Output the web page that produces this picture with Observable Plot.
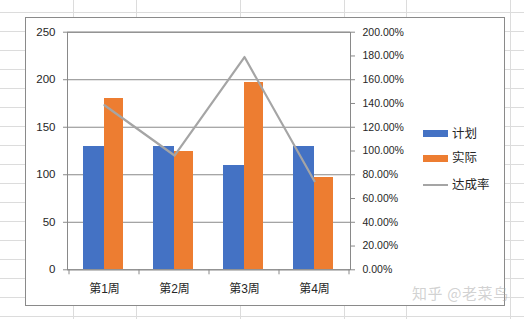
<!DOCTYPE html>
<html><head><meta charset="utf-8">
<script src="https://cdn.jsdelivr.net/npm/d3@7"></script>
<script src="https://cdn.jsdelivr.net/npm/@observablehq/plot@0.6"></script>
<style>
html,body{margin:0;padding:0;background:#fff;}
#wrap{position:relative;width:524px;height:319px;overflow:hidden;background:#fff;}
#sheet{position:absolute;left:0;top:0;}
#box{position:absolute;left:25px;top:17px;width:480px;height:289px;box-sizing:border-box;border:1px solid #8a8a8a;background:#fff;}
#chart{position:absolute;left:0;top:0;}
.lg{position:absolute;font-family:"Noto Sans CJK SC",sans-serif;font-size:12.5px;color:#262626;line-height:1;}
.sw{position:absolute;}
#wm{position:absolute;left:412px;top:285px;font-family:"Noto Sans CJK SC",sans-serif;font-size:15px;letter-spacing:0.6px;color:rgba(165,165,165,0.5);line-height:1;white-space:nowrap;}
</style></head>
<body>
<div id="wrap">
  <svg id="sheet" width="524" height="319"></svg>
  <div id="box"></div>
  <div id="chart"></div>
  <div id="legend"></div>
  <div id="wm">知乎 @老菜鸟</div>
</div>
<script>
const weeks = ["第1周", "第2周", "第3周", "第4周"];
const plan = [130, 130, 110, 130];
const actual = [180, 125, 197, 97];
const rate = [1.385, 0.962, 1.791, 0.746];
const leftTicks = [0, 50, 100, 150, 200, 250];
const rightTicks = [0, 0.2, 0.4, 0.6, 0.8, 1.0, 1.2, 1.4, 1.6, 1.8, 2.0];
const seriesNames = ["计划", "实际", "达成率"];
const seriesColors = ["#4472c4", "#ed7d31", "#a5a5a5"];

// spreadsheet background grid (decoration)
const colLines = [73.5, 136.5, 240.5, 344.5, 406.5, 510.5];
const sheet = d3.select("#sheet");
for (let k = 0; k < 17; k++) {
  const y = Math.round(11.7 + 19.02 * k) + 0.5;
  sheet.append("line").attr("x1", 0).attr("x2", 524).attr("y1", y).attr("y2", y).attr("stroke", "#dcdcdc");
}
colLines.forEach(x => sheet.append("line").attr("x1", x).attr("x2", x).attr("y1", 0).attr("y2", 319).attr("stroke", "#dcdcdc"));

const idx = weeks.map((_, i) => i);
const RATE_K = 250 / 2.0; // 200% on right axis aligns with 250 on left axis
const axisColor = "#898989";
const numFont = "Liberation Sans, Arial, sans-serif";

const plot = Plot.plot({
  width: 524,
  height: 319,
  marginLeft: 67,
  marginRight: 174,
  marginTop: 31.7,
  marginBottom: 49.7,
  style: {background: "transparent", overflow: "visible"},
  x: {type: "band", domain: weeks, padding: 0, axis: null},
  y: {domain: [0, 250], axis: null},
  marks: [
    Plot.gridY(leftTicks, {stroke: axisColor, strokeOpacity: 1}),
    Plot.barY(idx, {x: i => weeks[i], y: i => plan[i], fill: seriesColors[0], insetLeft: 14, insetRight: 35.3, shapeRendering: "crispEdges"}),
    Plot.barY(idx, {x: i => weeks[i], y: i => actual[i], fill: seriesColors[1], insetLeft: 34.7, insetRight: 15.7, shapeRendering: "crispEdges"}),
    Plot.line(idx, {x: i => weeks[i], y: i => rate[i] * RATE_K, stroke: seriesColors[2], strokeWidth: 2.2}),
    Plot.frame({stroke: axisColor}),
    Plot.axisY(leftTicks, {anchor: "left", tickSize: 4, tickPadding: 8, stroke: axisColor, fill: "#262626", fontSize: 11.5, fontFamily: numFont}),
    Plot.axisY(rightTicks.map(r => r * RATE_K), {anchor: "right", tickSize: 4, tickPadding: 8, stroke: axisColor, fill: "#262626", fontSize: 10.5, fontFamily: numFont,
      tickFormat: d => (d / RATE_K * 100).toFixed(2) + "%"}),
    Plot.axisX({anchor: "bottom", tickSize: 0, tickPadding: 14.5, fill: "#262626", fontSize: 12, fontFamily: "Liberation Sans, Noto Sans CJK SC, sans-serif"})
  ]
});
document.getElementById("chart").appendChild(plot);

// category boundary ticks on bottom axis
const xs = plot.scale("x");
const ys = plot.scale("y");
const y0 = ys.apply(0);
const svg = d3.select(plot);
const bounds = weeks.map(w => xs.apply(w)).concat([xs.apply(weeks[weeks.length - 1]) + xs.bandwidth]);
bounds.forEach(b => svg.append("line").attr("x1", b).attr("x2", b).attr("y1", y0).attr("y2", y0 + 5).attr("stroke", axisColor));

// legend
const lg = d3.select("#legend");
const legendTop = [133.5, 158, 184.5];
seriesNames.forEach((name, i) => {
  const isLine = i === 2;
  lg.append("div").attr("class", "sw")
    .style("left", "423px").style("width", "25px")
    .style("top", (isLine ? legendTop[i] - 1 : legendTop[i] - 3.5) + "px")
    .style("height", isLine ? "2px" : "7px")
    .style("background", seriesColors[i]);
  lg.append("div").attr("class", "lg")
    .style("left", "452px").style("top", (legendTop[i] - 7) + "px")
    .text(name);
});
</script>
</body></html>
